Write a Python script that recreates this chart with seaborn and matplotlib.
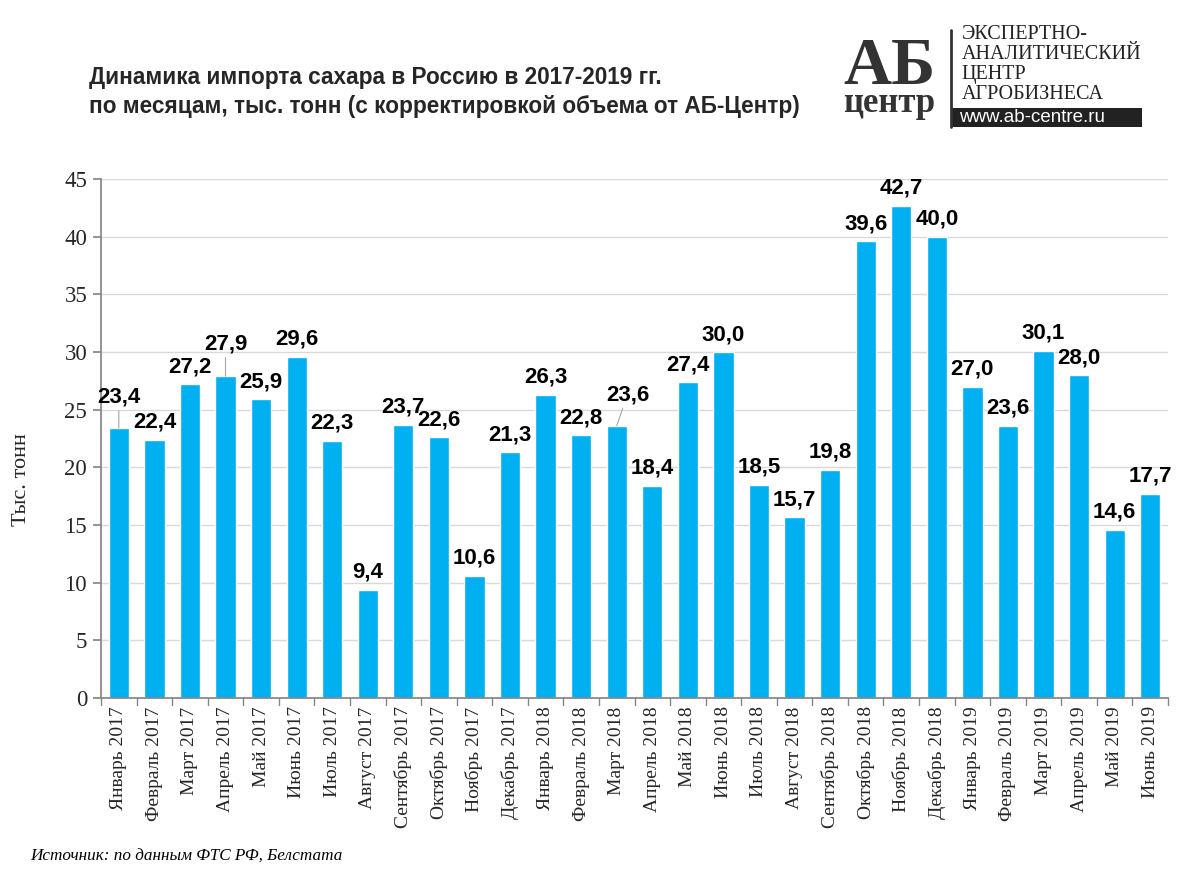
import matplotlib
matplotlib.use("Agg")
import matplotlib.pyplot as plt
import seaborn as sns
import pandas as pd
from matplotlib.patches import Rectangle

months = ["Январь 2017", "Февраль 2017", "Март 2017", "Апрель 2017", "Май 2017", "Июнь 2017",
          "Июль 2017", "Август 2017", "Сентябрь 2017", "Октябрь 2017", "Ноябрь 2017", "Декабрь 2017",
          "Январь 2018", "Февраль 2018", "Март 2018", "Апрель 2018", "Май 2018", "Июнь 2018",
          "Июль 2018", "Август 2018", "Сентябрь 2018", "Октябрь 2018", "Ноябрь 2018", "Декабрь 2018",
          "Январь 2019", "Февраль 2019", "Март 2019", "Апрель 2019", "Май 2019", "Июнь 2019"]
values = [23.4, 22.4, 27.2, 27.9, 25.9, 29.6, 22.3, 9.4, 23.7, 22.6, 10.6, 21.3,
          26.3, 22.8, 23.6, 18.4, 27.4, 30.0, 18.5, 15.7, 19.8, 39.6, 42.7, 40.0,
          27.0, 23.6, 30.1, 28.0, 14.6, 17.7]
yticks = [0, 5, 10, 15, 20, 25, 30, 35, 40, 45]

df = pd.DataFrame({"month": months, "value": values})

sns.set_theme(style="white")
plt.rcParams['font.family'] = ['Liberation Sans', 'DejaVu Sans']

fig = plt.figure(figsize=(11.9, 8.96), dpi=100)
ax = fig.add_axes([0.0849, 0.221, 0.8966, 0.5792])

sns.barplot(data=df, x="month", y="value", color="#00B0F0", saturation=1, width=0.57, ax=ax)

ax.set_ylim(0, 45)
ax.set_xlim(-0.5, len(months) - 0.5)
ax.set_yticks(yticks)
ax.set_yticklabels([str(t) for t in yticks], family=['Liberation Serif'], fontsize=16.5)
ax.set_xticks(range(len(months)))
ax.set_xticklabels(months, rotation=90, family=['Liberation Serif'], fontsize=14)
ax.set_xlabel("")
ax.set_ylabel("Тыс. тонн", family=['Liberation Serif'], fontsize=16)
ax.yaxis.set_label_coords(-0.066, 0.42)
ax.yaxis.grid(True, color="#d9d9d9", linewidth=1)
ax.set_axisbelow(True)
for s in ["top", "right"]:
    ax.spines[s].set_visible(False)
ax.spines["left"].set_color("#868686")
ax.spines["bottom"].set_color("#868686")
ax.tick_params(axis="y", length=6, color="#868686", left=True, pad=4)
ax.tick_params(axis="x", length=0, pad=6)
for i in range(len(months) + 1):
    ax.plot([i - 0.5, i - 0.5], [0, -0.6], color="#868686", lw=1, clip_on=False)

# data labels
offsets = {0: (0.0, 1.8), 3: (0.0, 1.9), 14: (0.3, 1.8)}
for i, v in enumerate(values):
    lbl = f"{v:.1f}".replace(".", ",")
    if i in offsets:
        dx, dy = offsets[i]
        ax.annotate(lbl, xy=(i, v), xytext=(i + dx, v + dy), ha="center", va="bottom",
                    fontsize=16, fontweight="bold", color="#000000",
                    arrowprops=dict(arrowstyle="-", color="#a6a6a6", lw=0.8, shrinkA=0, shrinkB=0))
    else:
        ax.text(i, v + 0.6, lbl, ha="center", va="bottom", fontsize=16,
                fontweight="bold", color="#000000")

# title
fig.text(0.075, 0.913, "Динамика импорта сахара в Россию в 2017-2019 гг.", fontsize=16.3,
         fontweight="bold", color="#262626", ha="left", va="center")
fig.text(0.075, 0.881, "по месяцам, тыс. тонн (с корректировкой объема от АБ-Центр)", fontsize=16.3,
         fontweight="bold", color="#262626", ha="left", va="center")

# source
fig.text(0.025, 0.044, "Источник: по данным ФТС РФ, Белстата", fontsize=12.3, style="italic",
         family=['Liberation Serif'], color="#000000", ha="left", va="center")

# logo
fig.text(0.7475, 0.906, "АБ", fontsize=48, fontweight="bold", family=['Liberation Serif'],
         color="#333333", ha="center", va="baseline")
fig.text(0.7475, 0.884, "центр", fontsize=25, fontweight="bold", family=['Liberation Serif'],
         color="#333333", ha="center", va="center")
fig.add_artist(plt.Line2D([0.7995, 0.7995], [0.858, 0.967], color="#333333", lw=2,
                          transform=fig.transFigure))
logo_lines = ["ЭКСПЕРТНО-", "АНАЛИТИЧЕСКИЙ", "ЦЕНТР", "АГРОБИЗНЕСА"]
for k, t in enumerate(logo_lines):
    fig.text(0.808, 0.961 - k * 0.0223, t, fontsize=14.5, family=['Liberation Serif'],
             color="#222222", ha="left", va="center")
fig.add_artist(Rectangle((0.7995, 0.858), 0.160, 0.022, transform=fig.transFigure,
                         facecolor="#222222", edgecolor="none"))
fig.text(0.806, 0.869, "www.ab-centre.ru", fontsize=13.5, color="white", ha="left", va="center")

fig.savefig("out.png", dpi=100)
